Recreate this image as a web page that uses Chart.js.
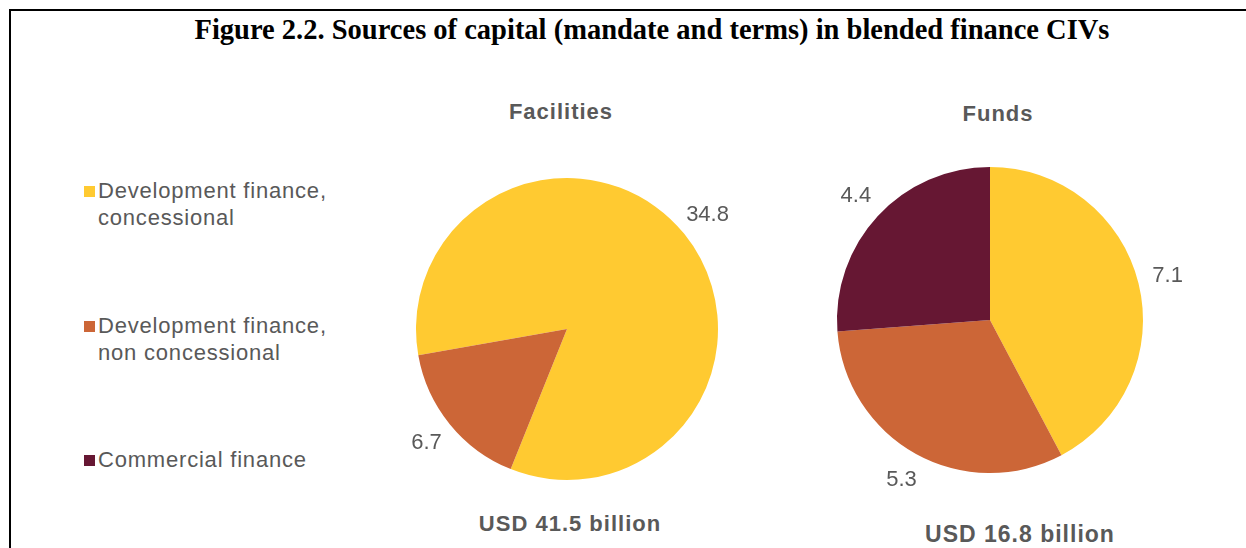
<!DOCTYPE html>
<html lang="en">
<head>
    <meta charset="UTF-8">
    <title>Sources of capital in blended finance CIVs</title>
    <script src="https://cdn.jsdelivr.net/npm/chart.js"></script>
    <style>
        body {
            margin: 0;
            width: 1246px;
            height: 548px;
            background: white;
            position: relative;
            overflow: hidden;
            font-family: "Liberation Sans", Arial, sans-serif;
        }
        .frame {
            position: absolute;
            left: 9px;
            top: 9px;
            width: 1250px;
            height: 560px;
            border-top: 2px solid #000;
            border-left: 2px solid #000;
        }
        .title {
            position: absolute;
            left: 0;
            width: 1304px;
            top: 14px;
            text-align: center;
            font-family: "Liberation Serif", "Times New Roman", serif;
            font-weight: bold;
            font-size: 28.5px;
        }
        .caption {
            position: absolute;
            width: 300px;
            text-align: center;
            color: #595959;
            font-weight: bold;
            font-size: 22px;
            letter-spacing: 1px;
        }
        .legend {
            position: absolute;
            left: 84px;
            color: #595959;
            font-size: 22px;
            line-height: 27px;
            letter-spacing: 0.8px;
        }
        .legend .item {
            position: absolute;
            white-space: nowrap;
        }
        .legend .box {
            position: absolute;
            left: 0;
            top: 9px;
            width: 11px;
            height: 11px;
        }
        .legend .txt {
            position: absolute;
            left: 14px;
            top: 0;
        }
        .pie {
            position: absolute;
            width: 400px;
            height: 380px;
        }
    </style>
</head>
<body>
    <div class="frame"></div>
    <div class="title">Figure 2.2. Sources of capital (mandate and terms) in blended finance CIVs</div>

    <div class="legend" id="legend"></div>

    <div class="caption" style="left:411px; top:99px;">Facilities</div>
    <div class="caption" style="left:848px; top:101px;">Funds</div>
    <div class="caption" style="left:420px; top:511px;">USD 41.5 billion</div>
    <div class="caption" style="left:870px; top:521px; font-size:23px;">USD 16.8 billion</div>

    <div class="pie" style="left:367px; top:139px;"><canvas id="facilitiesChart"></canvas></div>
    <div class="pie" style="left:790px; top:130px;"><canvas id="fundsChart"></canvas></div>

    <script>
        const categories = [
            ['Development finance,', 'concessional'],
            ['Development finance,', 'non concessional'],
            ['Commercial finance']
        ];
        const colors = ['#FFCA31', '#CC6637', '#661733'];
        const facilitiesValues = [34.8, 6.7, 0];
        const fundsValues = [7.1, 5.3, 4.4];
        const legendTops = [177, 312, 446];

        // legend built from the category list
        const legend = document.getElementById('legend');
        categories.forEach((lines, i) => {
            const item = document.createElement('div');
            item.className = 'item';
            item.style.top = legendTops[i] + 'px';
            item.innerHTML = '<div class="box" style="background:' + colors[i] + '"></div>' +
                '<div class="txt">' + lines.join('<br>') + '</div>';
            legend.appendChild(item);
        });

        // value labels just outside each slice
        const outsideLabels = {
            id: 'outsideLabels',
            afterDatasetsDraw(chart) {
                const ctx = chart.ctx;
                const meta = chart.getDatasetMeta(0);
                const values = chart.data.datasets[0].data;
                ctx.save();
                ctx.font = '22px "Liberation Sans", Arial, sans-serif';
                ctx.fillStyle = '#595959';
                ctx.textAlign = 'center';
                ctx.textBaseline = 'middle';
                meta.data.forEach((arc, i) => {
                    if (!values[i]) return;
                    const mid = (arc.startAngle + arc.endAngle) / 2;
                    const d = arc.outerRadius + 30;
                    ctx.fillText(values[i].toFixed(1), arc.x + Math.cos(mid) * d, arc.y + Math.sin(mid) * d);
                });
                ctx.restore();
            }
        };

        function makePie(id, values, rotation, pad) {
            return new Chart(document.getElementById(id), {
                type: 'pie',
                data: {
                    labels: categories.map(c => c.join(' ')),
                    datasets: [{
                        data: values,
                        backgroundColor: colors,
                        borderWidth: 0,
                        hoverOffset: 0
                    }]
                },
                options: {
                    responsive: true,
                    maintainAspectRatio: false,
                    animation: false,
                    rotation: rotation,
                    layout: { padding: pad },
                    plugins: {
                        legend: { display: false },
                        tooltip: { enabled: false }
                    }
                },
                plugins: [outsideLabels]
            });
        }

        makePie('facilitiesChart', facilitiesValues, 260, { left: 49, right: 49, top: 39, bottom: 39 });
        makePie('fundsChart', fundsValues, 0, { left: 47, right: 47, top: 37, bottom: 37 });
    </script>
</body>
</html>
